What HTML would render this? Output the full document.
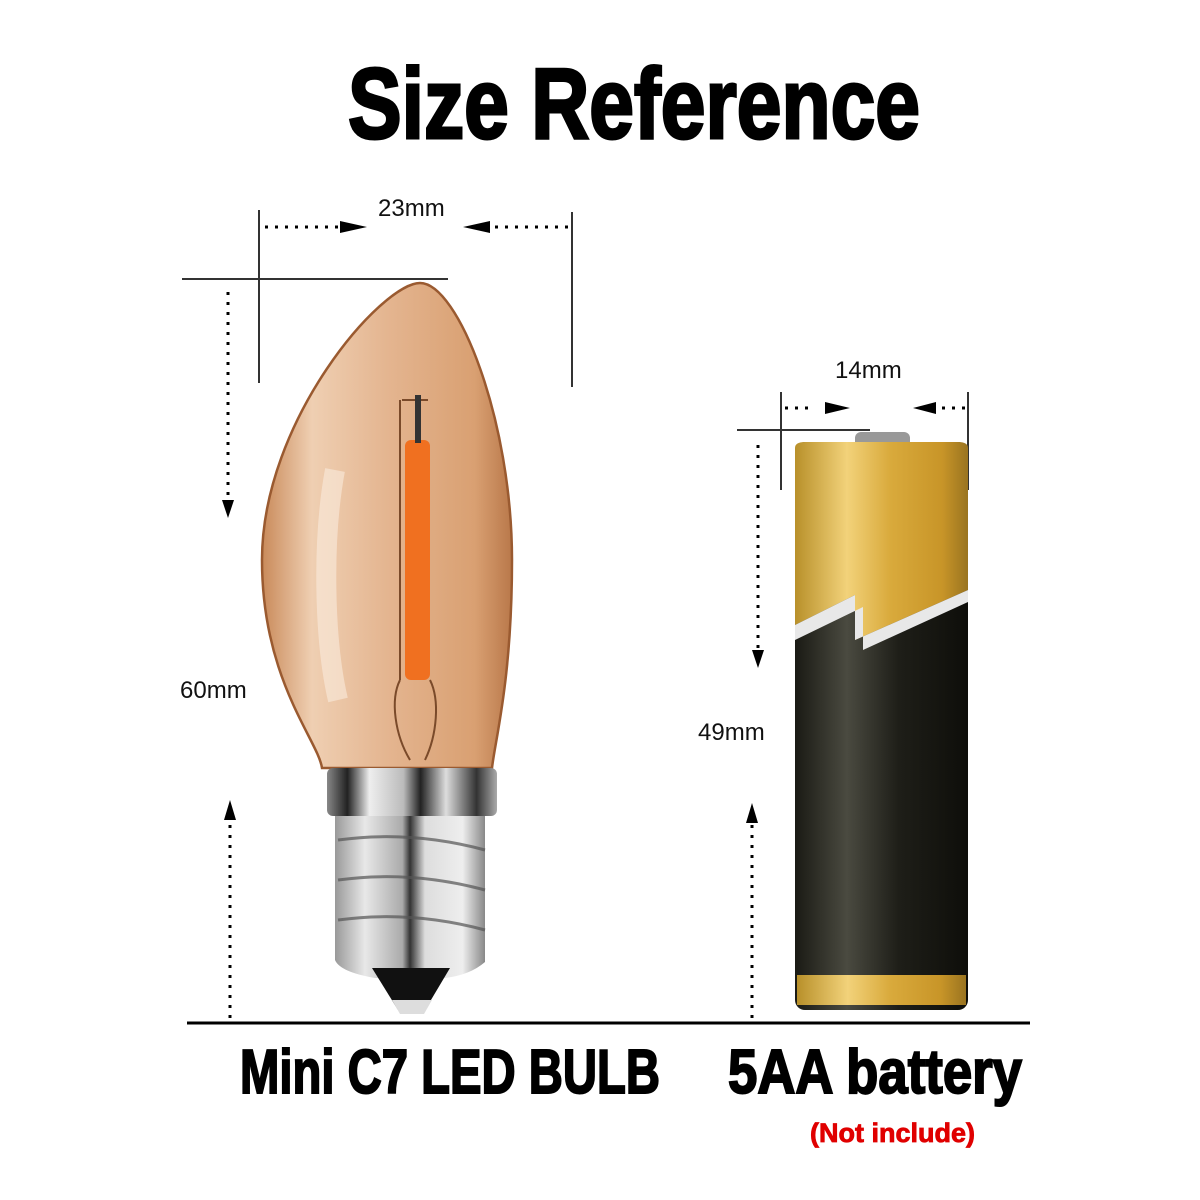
<!DOCTYPE html>
<html><head><meta charset="utf-8"><style>
html,body{margin:0;padding:0;background:#fff;}
svg{display:block;}
.imp{font-family:"Liberation Sans Narrow","Liberation Sans",sans-serif;font-weight:bold;}
.lab{font-family:"Liberation Sans",sans-serif;font-size:24px;fill:#111;}
</style></head><body>
<svg width="1200" height="1200" viewBox="0 0 1200 1200" xmlns="http://www.w3.org/2000/svg">
<defs>
<linearGradient id="glass" x1="0" x2="1" y1="0" y2="0">
<stop offset="0" stop-color="#c98a5a"/><stop offset="0.2" stop-color="#efcfb2"/><stop offset="0.5" stop-color="#e4b590"/><stop offset="0.85" stop-color="#d9a072"/><stop offset="1" stop-color="#b9784a"/>
</linearGradient>
<linearGradient id="silver" x1="0" x2="1">
<stop offset="0" stop-color="#888"/><stop offset="0.12" stop-color="#222"/><stop offset="0.25" stop-color="#eee"/><stop offset="0.45" stop-color="#bbb"/><stop offset="0.55" stop-color="#222"/><stop offset="0.7" stop-color="#ddd"/><stop offset="0.88" stop-color="#333"/><stop offset="1" stop-color="#aaa"/>
</linearGradient>
<linearGradient id="thread" x1="0" x2="1">
<stop offset="0" stop-color="#999"/><stop offset="0.2" stop-color="#e8e8e8"/><stop offset="0.45" stop-color="#aaa"/><stop offset="0.5" stop-color="#333"/><stop offset="0.6" stop-color="#ddd"/><stop offset="0.85" stop-color="#eee"/><stop offset="1" stop-color="#888"/>
</linearGradient>
<linearGradient id="gold" x1="0" x2="1">
<stop offset="0" stop-color="#b8902a"/><stop offset="0.3" stop-color="#f2d27a"/><stop offset="0.55" stop-color="#d9aa3c"/><stop offset="0.85" stop-color="#c89528"/><stop offset="1" stop-color="#9a7420"/>
</linearGradient>
<linearGradient id="blk" x1="0" x2="1">
<stop offset="0" stop-color="#1a1a14"/><stop offset="0.3" stop-color="#4a4a40"/><stop offset="0.6" stop-color="#1e1e18"/><stop offset="1" stop-color="#0e0e0a"/>
</linearGradient>
</defs>

<text class="imp" x="348" y="138" font-size="100" textLength="572" lengthAdjust="spacingAndGlyphs" fill="#000" stroke="#000" stroke-width="3">Size Reference</text>

<g stroke="#333" stroke-width="2">
<line x1="259" y1="210" x2="259" y2="383"/>
<line x1="572" y1="212" x2="572" y2="387"/>
<line x1="182" y1="279" x2="448" y2="279"/>
</g>
<g stroke="#000" stroke-width="3" stroke-dasharray="3 7">
<line x1="265" y1="227" x2="340" y2="227"/>
<line x1="495" y1="227" x2="570" y2="227"/>
<line x1="228" y1="292" x2="228" y2="495"/>
<line x1="230" y1="1018" x2="230" y2="825"/>
<line x1="785" y1="408" x2="815" y2="408"/>
<line x1="942" y1="408" x2="966" y2="408"/>
<line x1="758" y1="445" x2="758" y2="648"/>
<line x1="752" y1="1018" x2="752" y2="825"/>
</g>
<g fill="#000">
<polygon points="340,221 367,227 340,233"/>
<polygon points="490,221 463,227 490,233"/>
<polygon points="222,500 228,518 234,500"/>
<polygon points="224,820 230,800 236,820"/>
<polygon points="825,402 850,408 825,414"/>
<polygon points="936,402 913,408 936,414"/>
<polygon points="752,650 758,668 764,650"/>
<polygon points="746,823 752,803 758,823"/>
</g>
<text class="lab" x="378" y="216">23mm</text>
<text class="lab" x="180" y="698">60mm</text>
<text class="lab" x="835" y="378">14mm</text>
<text class="lab" x="698" y="740">49mm</text>

<g stroke="#333" stroke-width="2">
<line x1="781" y1="392" x2="781" y2="490"/>
<line x1="968" y1="392" x2="968" y2="490"/>
<line x1="737" y1="430" x2="870" y2="430"/>
</g>

<!-- bulb -->
<path d="M420,283 C458,283 512,420 512,560 C512,680 495,740 492,768 L322,768 C318,740 262,680 262,560 C262,420 382,283 420,283 Z" fill="url(#glass)" stroke="#9a5a30" stroke-width="2.5"/>
<path d="M335,470 C322,540 324,640 338,700" stroke="#fbeee2" stroke-width="20" fill="none" opacity="0.55"/>
<path d="M400,400 L400,680 M402,400 L428,400" stroke="#7a4a2a" stroke-width="2" fill="none"/>
<rect x="405" y="440" width="25" height="240" rx="6" fill="#f07020"/>
<rect x="415" y="395" width="6" height="48" fill="#333"/>
<path d="M400,680 C390,700 395,735 410,760 M430,680 C440,700 437,735 425,760" stroke="#7a4a2a" stroke-width="2" fill="none"/>
<rect x="327" y="768" width="170" height="48" rx="6" fill="url(#silver)"/>
<path d="M335,816 L485,816 L485,962 Q470,975 445,978 L375,978 Q340,972 335,960 Z" fill="url(#thread)"/>
<g stroke="#555" stroke-width="3" fill="none" opacity="0.7">
<path d="M338,840 Q410,830 485,850"/><path d="M338,880 Q410,870 485,890"/><path d="M338,920 Q410,910 485,930"/>
</g>
<path d="M372,968 L450,968 L425,1010 L398,1010 Z" fill="#111"/>
<path d="M392,1000 L432,1000 L424,1014 L400,1014 Z" fill="#ddd"/>

<!-- battery -->
<rect x="855" y="432" width="55" height="20" rx="6" fill="#999"/>
<rect x="795" y="442" width="173" height="568" rx="10" fill="url(#blk)"/>
<path d="M795,448 Q795,442 805,442 L958,442 Q968,442 968,448 L968,590 L855,640 L855,595 L795,625 Z" fill="url(#gold)"/>
<path d="M795,625 L855,595 L855,640 L968,590 L968,602 L863,650 L863,607 L795,640 Z" fill="#e8e8e8"/>
<rect x="797" y="975" width="169" height="30" fill="url(#gold)"/>

<line x1="187" y1="1023" x2="1030" y2="1023" stroke="#000" stroke-width="3"/>

<text class="imp" x="240" y="1093" font-size="62" textLength="420" lengthAdjust="spacingAndGlyphs" fill="#000" stroke="#000" stroke-width="2">Mini C7 LED BULB</text>
<text class="imp" x="728" y="1093" font-size="62" textLength="294" lengthAdjust="spacingAndGlyphs" fill="#000" stroke="#000" stroke-width="2">5AA battery</text>
<text class="imp" x="810" y="1142" font-size="27" textLength="165" lengthAdjust="spacingAndGlyphs" fill="#e00000" stroke="#e00000" stroke-width="0.8">(Not include)</text>
</svg>
</body></html>
